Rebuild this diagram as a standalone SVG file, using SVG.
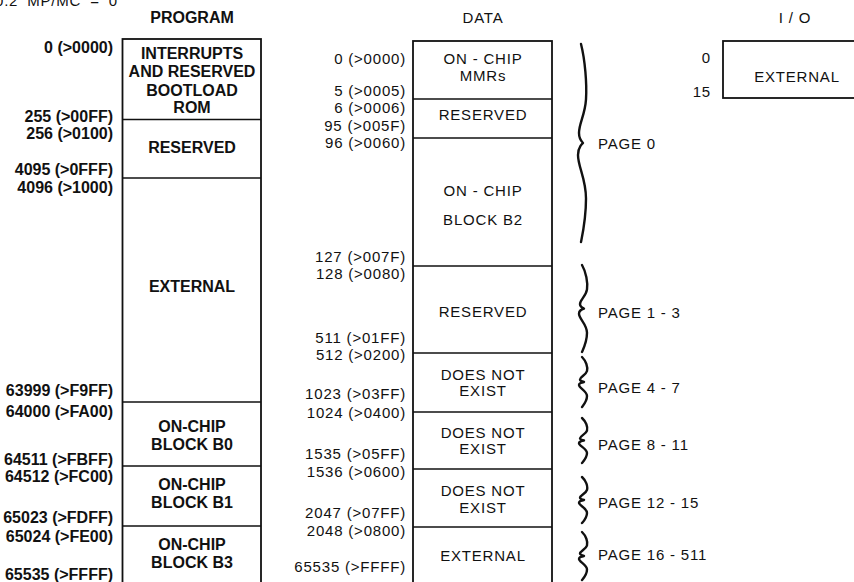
<svg xmlns="http://www.w3.org/2000/svg" xmlns:xlink="http://www.w3.org/1999/xlink" width="854" height="582" viewBox="0 0 854 582">
<style>
.bg{fill:#fff}
.box{fill:#fff;stroke:#111;stroke-width:1.8}
.sep{stroke:#111;stroke-width:1.6}
.pb{font-family:"Liberation Sans",Arial,sans-serif;font-weight:bold;font-size:16px;fill:#111}
.pl{font-family:"Liberation Sans",Arial,sans-serif;font-weight:bold;font-size:16px;fill:#111;text-anchor:end}
.dt{font-family:"Liberation Sans",Arial,sans-serif;font-size:15px;letter-spacing:0.8px;fill:#111}
.dl{font-family:"Liberation Sans",Arial,sans-serif;font-size:15px;letter-spacing:0.8px;fill:#111;text-anchor:end}
.c{text-anchor:middle}
.br{fill:none;stroke:#111;stroke-width:2.4;stroke-linecap:round;stroke-linejoin:round}
.brb{fill:none;stroke:#111;stroke-width:2;stroke-linecap:round;stroke-linejoin:round}
</style>
<defs>
<path id="brace" class="br" vector-effect="non-scaling-stroke" d="M0,0 C4,0.08 6,0.2 5,0.28 C4,0.36 -2,0.4 -2,0.45 C-2,0.48 2,0.5 2,0.5 C2,0.5 -3,0.52 -3,0.56 C-3,0.62 5,0.68 5,0.78 C5,0.88 2,0.95 0,1"/>
</defs>
<rect class="bg" x="0" y="0" width="854" height="582"/>
<text class="dt" x="-5" y="6" word-spacing="4">0.2 MP/MC = 0</text>

<g id="program">
<text class="pb c" x="192" y="23">PROGRAM</text>
<rect class="box" x="122.5" y="39" width="138.5" height="560"/>
<g id="p-int">
<line class="sep" x1="122.5" y1="119.5" x2="261" y2="119.5"/>
<text class="pb c" x="192" y="59">INTERRUPTS</text>
<text class="pb c" x="192" y="77">AND RESERVED</text>
<text class="pb c" x="192" y="96">BOOTLOAD</text>
<text class="pb c" x="192" y="113">ROM</text>
<text class="pl" x="113" y="53">0 (&gt;0000)</text>
<text class="pl" x="113" y="122">255 (&gt;00FF)</text>
</g>
<g id="p-res">
<line class="sep" x1="122.5" y1="178" x2="261" y2="178"/>
<text class="pb c" x="192" y="153">RESERVED</text>
<text class="pl" x="113" y="139">256 (&gt;0100)</text>
<text class="pl" x="113" y="175">4095 (&gt;0FFF)</text>
</g>
<g id="p-ext">
<line class="sep" x1="122.5" y1="402" x2="261" y2="402"/>
<text class="pb c" x="192" y="292">EXTERNAL</text>
<text class="pl" x="113" y="193">4096 (&gt;1000)</text>
<text class="pl" x="113" y="396">63999 (&gt;F9FF)</text>
</g>
<g id="p-b0">
<line class="sep" x1="122.5" y1="466" x2="261" y2="466"/>
<text class="pb c" x="192" y="432">ON-CHIP</text>
<text class="pb c" x="192" y="450">BLOCK B0</text>
<text class="pl" x="113" y="417">64000 (&gt;FA00)</text>
<text class="pl" x="113" y="465">64511 (&gt;FBFF)</text>
</g>
<g id="p-b1">
<line class="sep" x1="122.5" y1="526" x2="261" y2="526"/>
<text class="pb c" x="192" y="490">ON-CHIP</text>
<text class="pb c" x="192" y="508">BLOCK B1</text>
<text class="pl" x="113" y="482">64512 (&gt;FC00)</text>
<text class="pl" x="113" y="523">65023 (&gt;FDFF)</text>
</g>
<g id="p-b3">
<text class="pb c" x="192" y="550">ON-CHIP</text>
<text class="pb c" x="192" y="568">BLOCK B3</text>
<text class="pl" x="113" y="542">65024 (&gt;FE00)</text>
<text class="pl" x="113" y="580">65535 (&gt;FFFF)</text>
</g>
</g>

<g id="data">
<text class="dt c" x="483" y="23">DATA</text>
<rect class="box" x="413" y="41" width="139" height="560"/>
<g id="d-mmr">
<line class="sep" x1="413" y1="99" x2="552" y2="99"/>
<text class="dt c" x="483" y="64">ON - CHIP</text>
<text class="dt c" x="483" y="81">MMRs</text>
<text class="dl" x="406" y="64">0 (&gt;0000)</text>
<text class="dl" x="406" y="96">5 (&gt;0005)</text>
</g>
<g id="d-res0">
<line class="sep" x1="413" y1="138" x2="552" y2="138"/>
<text class="dt c" x="483" y="120">RESERVED</text>
<text class="dl" x="406" y="113">6 (&gt;0006)</text>
<text class="dl" x="406" y="131">95 (&gt;005F)</text>
</g>
<g id="d-b2">
<line class="sep" x1="413" y1="266" x2="552" y2="266"/>
<text class="dt c" x="483" y="196">ON - CHIP</text>
<text class="dt c" x="483" y="225">BLOCK B2</text>
<text class="dl" x="406" y="148">96 (&gt;0060)</text>
<text class="dl" x="406" y="262">127 (&gt;007F)</text>
</g>
<g id="d-res1">
<line class="sep" x1="413" y1="353" x2="552" y2="353"/>
<text class="dt c" x="483" y="317">RESERVED</text>
<text class="dl" x="406" y="279">128 (&gt;0080)</text>
<text class="dl" x="406" y="343">511 (&gt;01FF)</text>
</g>
<g id="d-dne1">
<line class="sep" x1="413" y1="412" x2="552" y2="412"/>
<text class="dt c" x="483" y="380">DOES NOT</text>
<text class="dt c" x="483" y="396">EXIST</text>
<text class="dl" x="406" y="360">512 (&gt;0200)</text>
<text class="dl" x="406" y="399">1023 (&gt;03FF)</text>
</g>
<g id="d-dne2">
<line class="sep" x1="413" y1="469" x2="552" y2="469"/>
<text class="dt c" x="483" y="438">DOES NOT</text>
<text class="dt c" x="483" y="454">EXIST</text>
<text class="dl" x="406" y="418">1024 (&gt;0400)</text>
<text class="dl" x="406" y="459">1535 (&gt;05FF)</text>
</g>
<g id="d-dne3">
<line class="sep" x1="413" y1="527" x2="552" y2="527"/>
<text class="dt c" x="483" y="496">DOES NOT</text>
<text class="dt c" x="483" y="513">EXIST</text>
<text class="dl" x="406" y="477">1536 (&gt;0600)</text>
<text class="dl" x="406" y="518">2047 (&gt;07FF)</text>
</g>
<g id="d-ext">
<text class="dt c" x="483" y="561">EXTERNAL</text>
<text class="dl" x="406" y="536">2048 (&gt;0800)</text>
<text class="dl" x="406" y="572">65535 (&gt;FFFF)</text>
</g>
</g>

<g id="io">
<text class="dt c" x="795" y="23">I / O</text>
<rect class="box" x="723" y="41" width="160" height="57"/>
<text class="dt c" x="797" y="82">EXTERNAL</text>
<text class="dl" x="711" y="63">0</text>
<text class="dl" x="711" y="97">15</text>
</g>

<g id="connectors">
<use xlink:href="#brace" transform="translate(581,44) scale(1,198)" style="stroke-width:2"/>
<use xlink:href="#brace" transform="translate(582,265) scale(1,87)"/>
<use xlink:href="#brace" transform="translate(582,357) scale(1,50)"/>
<use xlink:href="#brace" transform="translate(582,418) scale(1,45)"/>
<use xlink:href="#brace" transform="translate(582,477) scale(1,46)"/>
<use xlink:href="#brace" transform="translate(582,532) scale(1,48)"/>
</g>
<g id="page-labels">
<text class="dt" x="598" y="149">PAGE 0</text>
<text class="dt" x="598" y="318">PAGE 1 - 3</text>
<text class="dt" x="598" y="393">PAGE 4 - 7</text>
<text class="dt" x="598" y="450">PAGE 8 - 11</text>
<text class="dt" x="598" y="508">PAGE 12 - 15</text>
<text class="dt" x="598" y="560">PAGE 16 - 511</text>
</g>
</svg>
